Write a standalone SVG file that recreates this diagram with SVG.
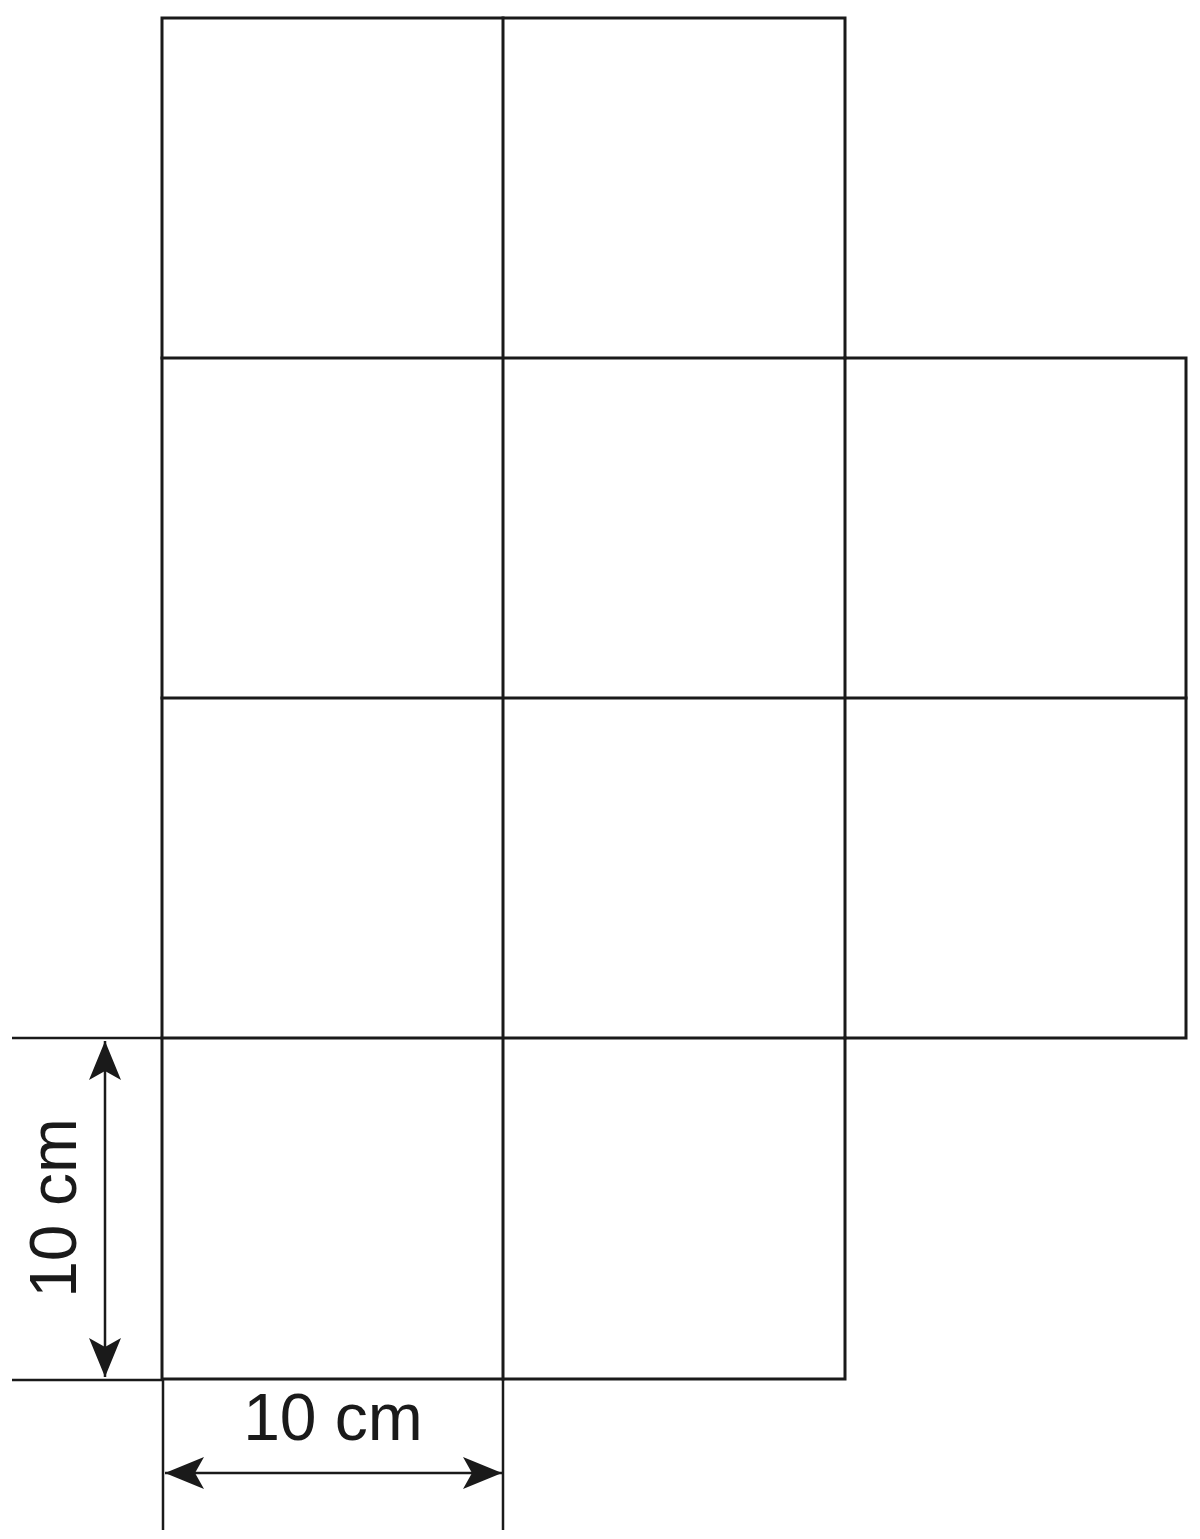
<svg xmlns="http://www.w3.org/2000/svg" width="1200" height="1539" viewBox="0 0 1200 1539">
<style>
.g{fill:none;stroke:#1a1a1a;stroke-width:3;stroke-linecap:square}
.d{fill:none;stroke:#1a1a1a;stroke-width:2.5}
.t{font-family:"Liberation Sans",Arial,sans-serif;font-size:66px;fill:#1a1a1a}
</style>
<defs>
<marker id="ah" viewBox="0 0 40 34" refX="39" refY="17" markerWidth="40" markerHeight="34" markerUnits="userSpaceOnUse" orient="auto-start-reverse">
<path d="M39,17 L0,1 L9,17 L0,33 Z" fill="#1a1a1a"/>
</marker>
</defs>
<rect width="1200" height="1539" fill="#fff"/>
<g id="net">
<path class="g" d="M162,18 H845 V1379 H162 Z"/>
<path class="g" d="M845,358 H1186 V1038 H845"/>
<path class="g" d="M503,18 V1379"/>
<path class="g" d="M162,358 H845 M162,698 H1186 M162,1038 H845"/>
</g>
<g id="connectors">
<path class="d" d="M12,1038 H162 M12,1380 H162"/>
<path class="d" d="M163,1379 V1530 M503,1379 V1530"/>
<path class="d" d="M105,1041 V1377" marker-start="url(#ah)" marker-end="url(#ah)"/>
<path class="d" d="M165,1473 H502" marker-start="url(#ah)" marker-end="url(#ah)"/>
</g>
<g id="labels">
<text class="t" x="333" y="1440" text-anchor="middle">10 cm</text>
<text class="t" transform="translate(76,1208) rotate(-90)" text-anchor="middle">10 cm</text>
</g>
</svg>
